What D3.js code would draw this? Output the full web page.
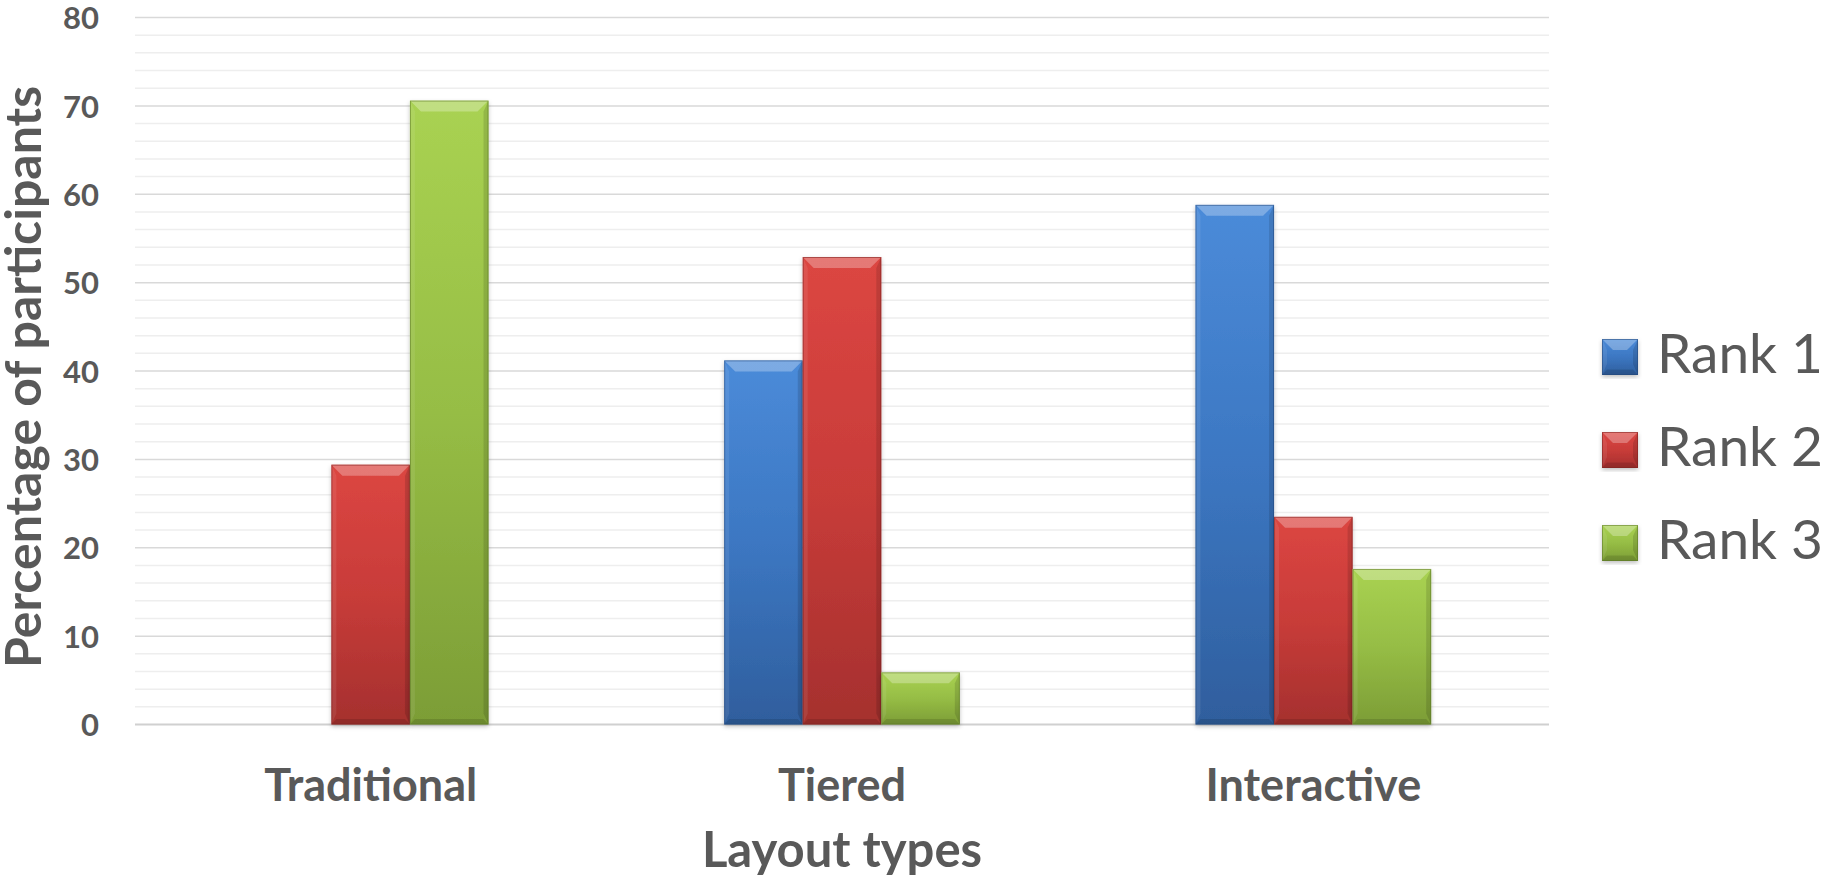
<!DOCTYPE html>
<html>
<head>
<meta charset="utf-8">
<script src="https://cdn.jsdelivr.net/npm/d3@7"></script>
<style>
  html, body { margin: 0; padding: 0; background: #ffffff; }
  svg { display: block; }
</style>
</head>
<body>
<svg id="chart" width="1829" height="882"></svg>
<script>
// Survey results: share of participants giving each rank to each layout
const categories = ["Traditional", "Tiered", "Interactive"];
const seriesNames = ["Rank 1", "Rank 2", "Rank 3"];
const rank1 = [0, 41.2, 58.8];
const rank2 = [29.4, 52.9, 23.5];
const rank3 = [70.6, 5.9, 17.6];
const yTicks = [0, 10, 20, 30, 40, 50, 60, 70, 80];
const yMinorTicks = d3.range(0, 81, 2);

const seriesValues = [rank1, rank2, rank3];
const palette = [
  { top: "#4b8bd9", mid: "#3c77c2", bottom: "#2f5e9d", edge: "#24497c" },
  { top: "#dc4642", mid: "#c83c39", bottom: "#a5302e", edge: "#7e2220" },
  { top: "#a9d252", mid: "#96bd45", bottom: "#7c9d36", edge: "#5d7827" }
];

const svg = d3.select("#chart");
const textColor = "#595959";
const fontStack = "Lato, 'Open Sans', sans-serif";
const margin = { left: 135, right: 1549, top: 17.5, bottom: 724.5 };

const x0 = d3.scaleBand().domain(categories)
  .range([margin.left, margin.right])
  .paddingInner(0.5).paddingOuter(0.25);
const x1 = d3.scaleBand().domain(seriesNames)
  .range([0, x0.bandwidth()]).padding(0);
const y = d3.scaleLinear().domain([0, 80]).range([margin.bottom, margin.top]);

// gradients for bar bodies
const defs = svg.append("defs");
palette.forEach((c, i) => {
  const g = defs.append("linearGradient").attr("id", "grad" + i)
    .attr("x1", 0).attr("y1", 0).attr("x2", 0).attr("y2", 1);
  g.append("stop").attr("offset", "0%").attr("stop-color", c.top);
  g.append("stop").attr("offset", "50%").attr("stop-color", c.mid);
  g.append("stop").attr("offset", "100%").attr("stop-color", c.bottom);
});
const shadow = defs.append("filter").attr("id", "shadow")
  .attr("x", "-10%").attr("y", "-10%").attr("width", "120%").attr("height", "120%");
shadow.append("feDropShadow").attr("dx", 0).attr("dy", 2).attr("stdDeviation", 2)
  .attr("flood-color", "#000").attr("flood-opacity", 0.25);

// minor gridlines
svg.append("g").selectAll("line")
  .data(yMinorTicks.filter(v => v % 10 !== 0))
  .join("line")
  .attr("x1", margin.left).attr("x2", margin.right)
  .attr("y1", d => y(d)).attr("y2", d => y(d))
  .attr("stroke", "#eeeeee").attr("stroke-width", 1.5);

// major gridlines
svg.append("g").selectAll("line")
  .data(yTicks)
  .join("line")
  .attr("x1", margin.left).attr("x2", margin.right)
  .attr("y1", d => y(d)).attr("y2", d => y(d))
  .attr("stroke", d => d === 0 ? "#d0d0d0" : "#d9d9d9")
  .attr("stroke-width", d => d === 0 ? 2 : 1.5);

// y-axis tick labels
const yAxis = d3.axisLeft(y).tickValues(yTicks).tickSize(0).tickPadding(0);
const yAxisG = svg.append("g").attr("transform", "translate(99,0)").call(yAxis);
yAxisG.select(".domain").remove();
yAxisG.selectAll("text")
  .attr("fill", textColor)
  .attr("font-family", fontStack)
  .attr("font-weight", "bold")
  .attr("font-size", 31)
  .attr("dy", "0.36em");

// x-axis category labels
const xAxis = d3.axisBottom(x0).tickSize(0).tickPadding(0);
const xAxisG = svg.append("g").attr("transform", "translate(0,801)").call(xAxis);
xAxisG.select(".domain").remove();
xAxisG.selectAll("text")
  .attr("fill", textColor)
  .attr("font-family", fontStack)
  .attr("font-weight", "bold")
  .attr("font-size", 45)
  .attr("dy", 0);

// bevelled bar drawing
function bevelBar(g, x, yTop, w, h, ci) {
  if (h <= 0) return;
  const c = palette[ci];
  const b = Math.min(11, h / 2);
  const s = 5;
  const yb = yTop + h;
  g.append("rect").attr("x", x).attr("y", yTop).attr("width", w).attr("height", h)
    .attr("fill", `url(#grad${ci})`).attr("filter", "url(#shadow)");
  // left edge
  g.append("polygon")
    .attr("points", [[x, yTop], [x + s, yTop + b], [x + s, yb - b], [x, yb]].join(" "))
    .attr("fill", "#ffffff").attr("opacity", 0.08);
  // right edge
  g.append("polygon")
    .attr("points", [[x + w, yTop], [x + w - s, yTop + b], [x + w - s, yb - b], [x + w, yb]].join(" "))
    .attr("fill", "#000000").attr("opacity", 0.12);
  // bottom edge
  g.append("polygon")
    .attr("points", [[x, yb], [x + s, yb - b * 0.5], [x + w - s, yb - b * 0.5], [x + w, yb]].join(" "))
    .attr("fill", "#000000").attr("opacity", 0.12);
  // top bevel highlight
  g.append("polygon")
    .attr("points", [[x, yTop], [x + w, yTop], [x + w - b, yTop + b], [x + b, yTop + b]].join(" "))
    .attr("fill", "#ffffff").attr("opacity", 0.28);
  g.append("rect").attr("x", x + 0.5).attr("y", yTop + 0.5).attr("width", w - 1).attr("height", h - 1)
    .attr("fill", "none").attr("stroke", c.edge).attr("stroke-opacity", 0.55).attr("stroke-width", 1);
}

const barsG = svg.append("g");
categories.forEach((cat, ci) => {
  seriesNames.forEach((s, si) => {
    const v = seriesValues[si][ci];
    const xPos = x0(cat) + x1(s);
    bevelBar(barsG, xPos, y(v), x1.bandwidth(), y(0) - y(v), si);
  });
});

// axis titles
svg.append("text")
  .attr("transform", "translate(41,377) rotate(-90)")
  .attr("text-anchor", "middle")
  .attr("fill", textColor)
  .attr("font-family", fontStack)
  .attr("font-weight", "bold")
  .attr("font-size", 50)
  .text("Percentage of participants");

svg.append("text")
  .attr("x", (margin.left + margin.right) / 2)
  .attr("y", 867)
  .attr("text-anchor", "middle")
  .attr("fill", textColor)
  .attr("font-family", fontStack)
  .attr("font-weight", "bold")
  .attr("font-size", 49)
  .text("Layout types");

// legend
const legend = svg.append("g");
seriesNames.forEach((s, i) => {
  const cy = 357 + i * 93;
  bevelBar(legend, 1602, cy - 18, 36, 36, i);
  legend.append("text")
    .attr("x", 1657).attr("y", cy + 16)
    .attr("fill", textColor)
    .attr("font-family", fontStack)
    .attr("font-size", 55)
    .text(s);
});
</script>
</body>
</html>
